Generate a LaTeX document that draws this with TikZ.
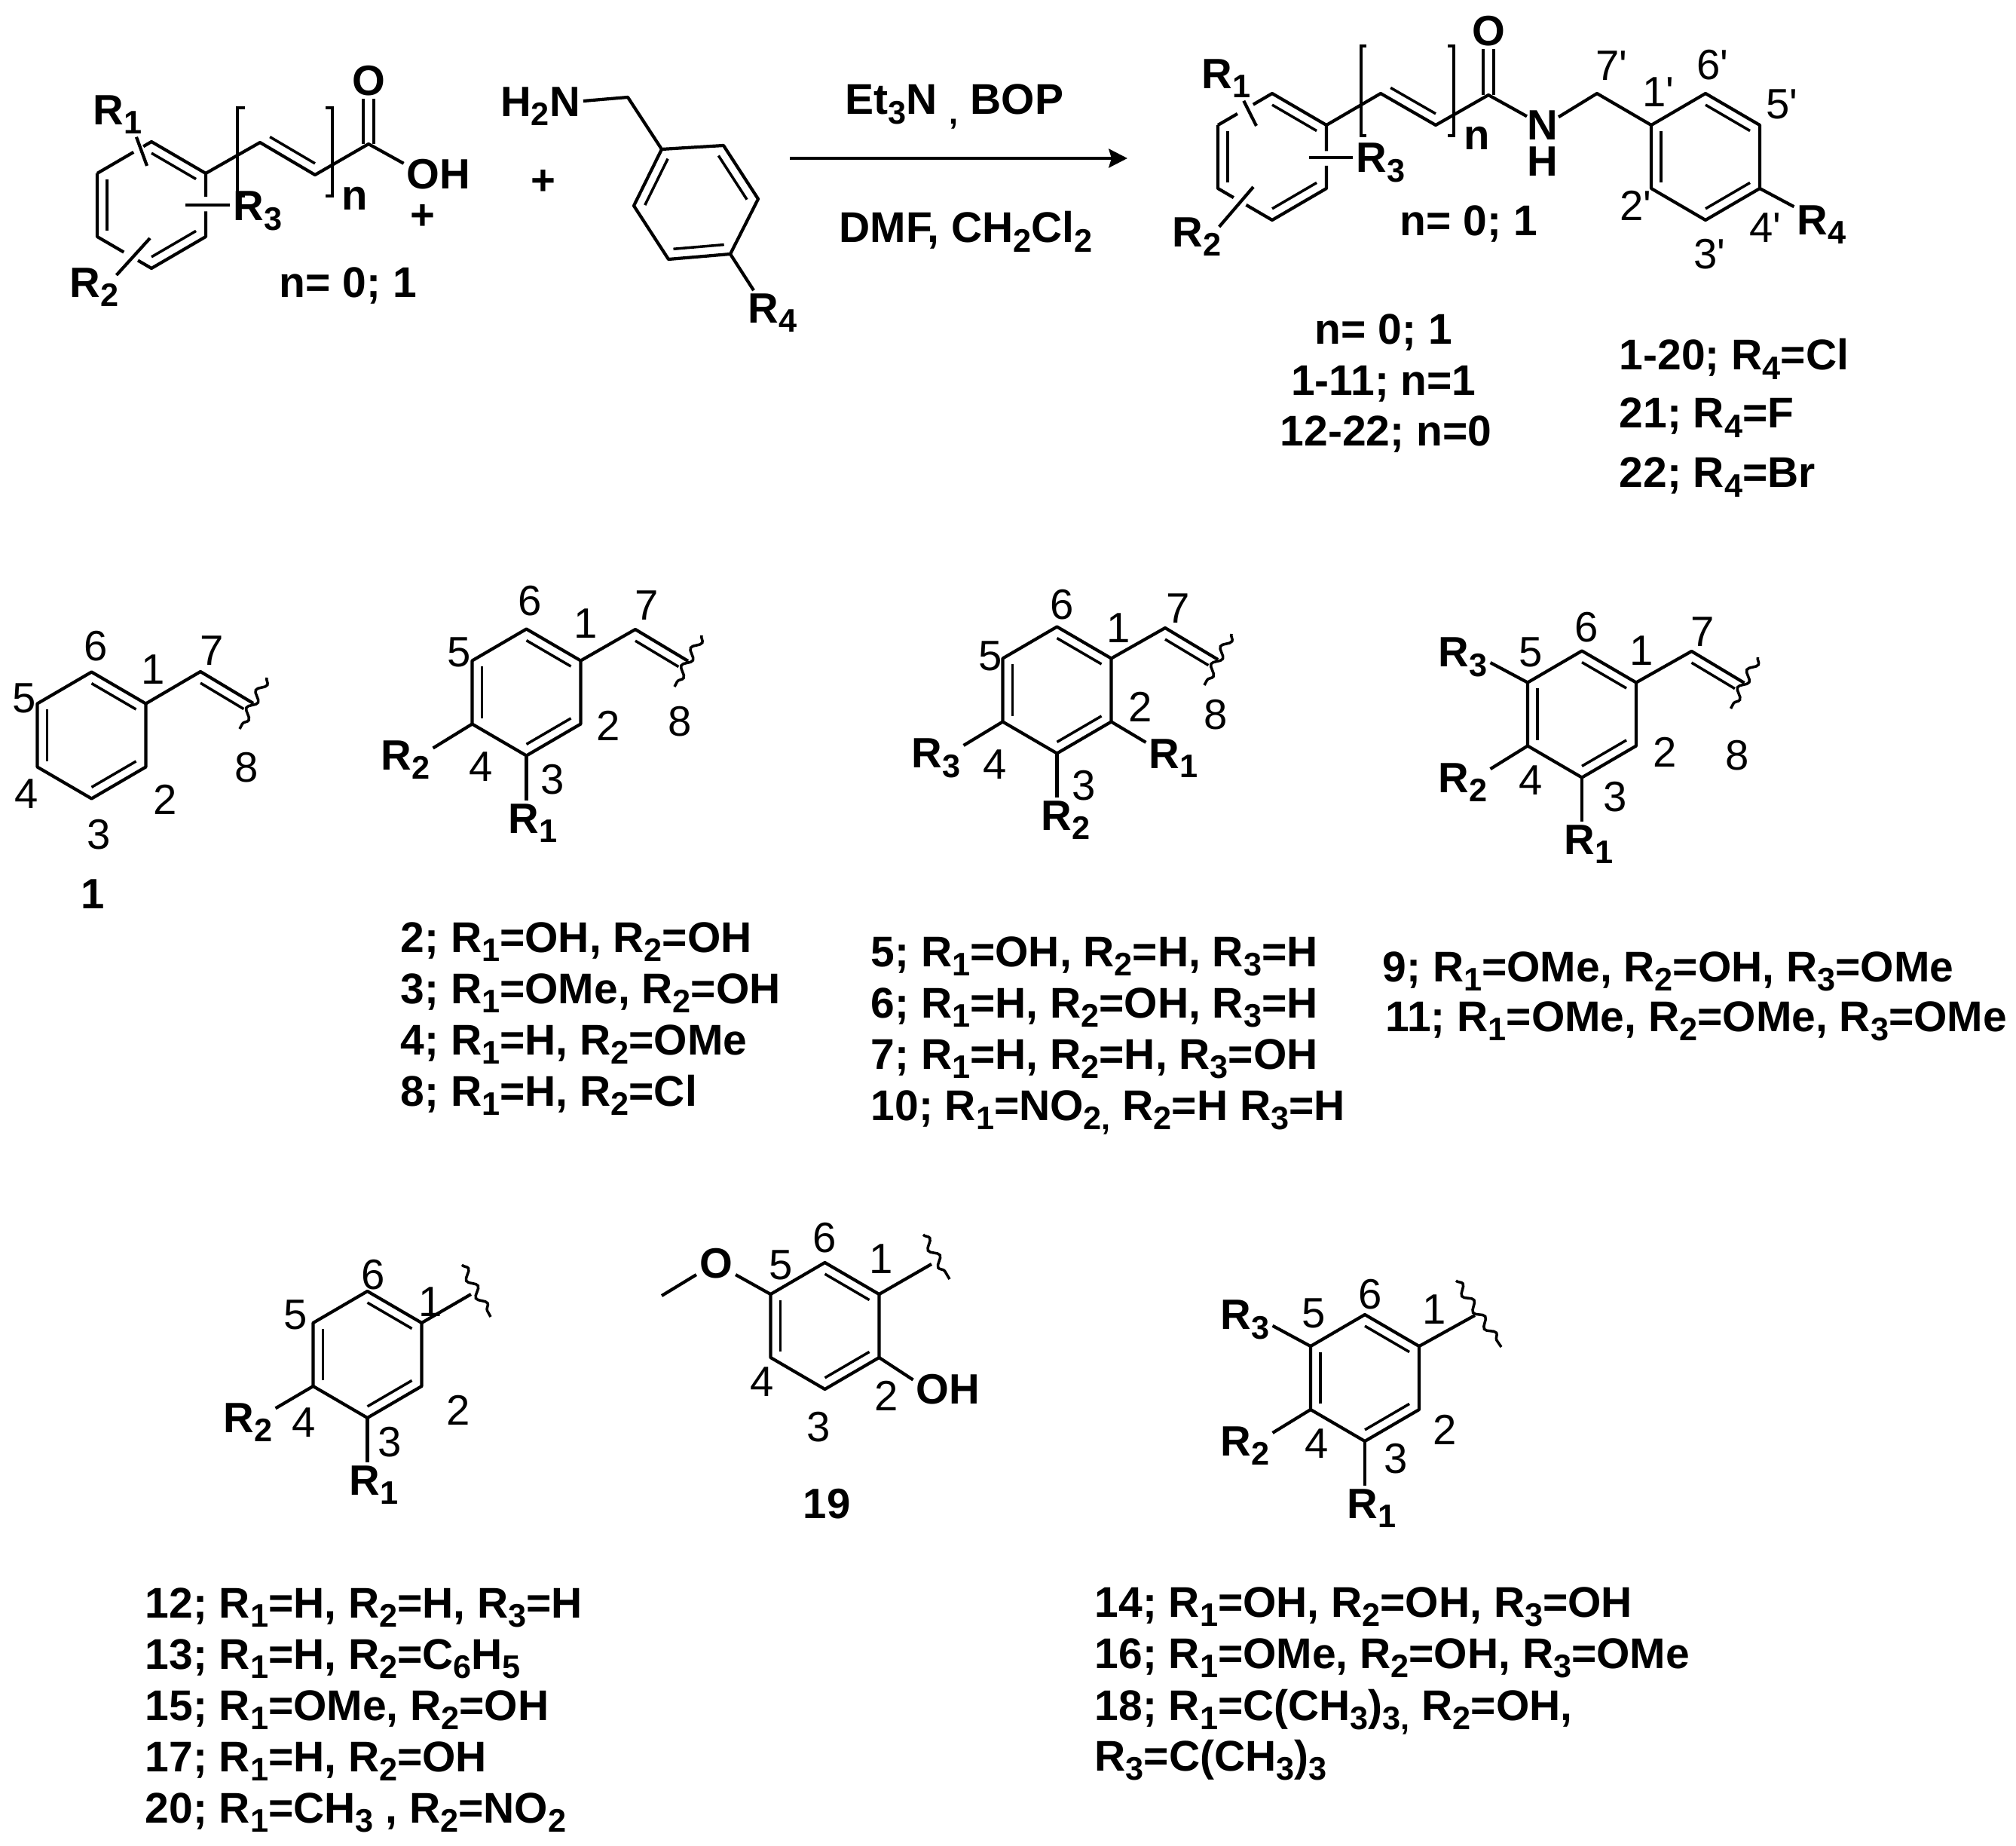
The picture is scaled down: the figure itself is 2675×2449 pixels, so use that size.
\documentclass[tikz,border=0pt]{standalone}
\usepackage{fontspec}
\setmainfont{Liberation Sans}
\usetikzlibrary{arrows,arrows.meta,calc,decorations.pathmorphing}
\tikzset{
    bond/.style={
        line width=1.2pt,
        line join=round,
    },
    innerbond/.style={
        line width=1pt,
    },
    dblbond/.style={
        double,
        double distance=2.8pt,
        line width=1.1pt,
    },
    bracket/.style={
        line width=0.9pt,
    },
    wavy/.style={
        line width=1pt,
        decorate,
        decoration={snake,amplitude=1.5pt,segment length=7.5pt},
    },
    reaction/.style={
        line width=1.4pt,
        -{Stealth[length=7pt,width=7pt,inset=1pt]},
    },
    atomlabel/.style={
        font=\fontsize{16}{19}\selectfont\bfseries,
        inner sep=1pt,
    },
    poslabel/.style={
        font=\fontsize{16}{19}\selectfont,
        inner sep=0pt,
    },
    listlabel/.style={
        font=\fontsize{16.2}{19}\selectfont\bfseries,
        inner sep=0pt,
        anchor=base west,
    },
    centerlabel/.style={
        font=\fontsize{16.2}{19}\selectfont\bfseries,
        inner sep=0pt,
        anchor=base,
    }
}
\newcommand{\sbs}[1]{\raisebox{-0.22em}{\fontsize{12.3}{13}\selectfont #1}}
\newcommand{\Rsub}[1]{R\sbs{#1}}
\newcommand{\pr}{\textquotesingle}
% vertices 1..6 clockwise from the upper right, #1c is the centre
\newcommand{\ringcoords}[3]{
    \coordinate (#1c) at (#2,#3);
    \coordinate (#11) at (#2+72,#3-42);
    \coordinate (#12) at (#2+72,#3+42);
    \coordinate (#13) at (#2,#3+84);
    \coordinate (#14) at (#2-72,#3+42);
    \coordinate (#15) at (#2-72,#3-42);
    \coordinate (#16) at (#2,#3-84);
}
\newcommand{\inbond}[3]{\draw[innerbond] ($(#1)!0.18!(#3)$) -- ($(#2)!0.18!(#3)$);}
\newcommand{\ringinner}[1]{
    \inbond{#16}{#11}{#1c}
    \inbond{#12}{#13}{#1c}
    \inbond{#14}{#15}{#1c}
}
\newcommand{\benzring}[3]{
    \ringcoords{#1}{#2}{#3}
    \draw[bond] (#11) -- (#12) -- (#13) -- (#14) -- (#15) -- (#16) -- cycle;
    \ringinner{#1}
}
% styryl arm: #1 name, #2 ring vertex, #3 #4 position of C7
\newcommand{\vinylarm}[4]{
    \coordinate (#17) at (#3,#4);
    \coordinate (#18) at (#3+70,#4+42);
    \coordinate (#1v) at (#3,#4+84);
    \coordinate (#1wa) at (#3+88,#4+8);
    \coordinate (#1wb) at (#3+52,#4+76);
    \draw[bond] (#2) -- (#17) -- (#18);
    \inbond{#17}{#18}{#1v}
    \draw[wavy] (#1wa) -- (#1wb);
}

\begin{document}
\begin{tikzpicture}[x=0.01cm,y=-0.01cm,>=stealth']
    \useasboundingbox (0,0) rectangle (2675,2449);

    % acid
    \ringcoords{ac}{201}{272}
    \node [atomlabel] (acR1) at (156,152) {\Rsub{1}};
    \node [atomlabel] (acR2) at (125,381) {\Rsub{2}};
    \node [atomlabel] (acR3) at (342,280) {\Rsub{3}};
    \node [atomlabel] (acO) at (489,107) {O};
    \node [atomlabel] (acOH) at (582,231) {OH};
    \node [atomlabel] (acn) at (471,263) {n};
    \coordinate (acc1) at (345,189);
    \coordinate (acc2) at (418,232);
    \coordinate (acc3) at (489,191);
    \coordinate (acv) at (418,148);
    \coordinate (acx1) at (195,220);
    \coordinate (acx2) at (199,316);
    \coordinate (acx3) at (246,272);
    \draw[dblbond] (acc3) -- (acO);
    \draw[bond] (ac5) -- ($(ac5)!0.67!(ac6)$);
    \draw[bond] ($(ac5)!0.85!(ac6)$) -- (ac6) -- (ac1) -- ($(ac1)!0.37!(ac2)$);
    \draw[bond] ($(ac1)!0.6!(ac2)$) -- (ac2) -- (ac3) -- ($(ac3)!0.25!(ac4)$);
    \draw[bond] ($(ac3)!0.51!(ac4)$) -- (ac4) -- (ac5);
    \ringinner{ac}
    \draw[bond] (acR1.-50) -- (acx1);
    \draw[bond,shorten <=-3pt] (acR2.33) -- (acx2);
    \draw[bond] (acx3) -- (acx3 -| acR3.west);
    \draw[bond] (ac1) -- (acc1) -- (acc2) -- (acc3) -- (acOH.163);
    \inbond{acc1}{acc2}{acv}
    \draw[bracket] (325,143) -- (315,143) -- (315,260) -- (325,260);
    \draw[bracket] (432,143) -- (441,143) -- (441,260) -- (432,260);
    \node [centerlabel] (acnval) at (462,395) {n= 0; 1};
    \node [atomlabel] (plusa) at (561,288) {+};
    \node [atomlabel] (plusb) at (721,242) {+};

    % amine
    \node [atomlabel] (baN) at (717,141) {H\sbs{2}N};
    \node [atomlabel] (baR4) at (1025,415) {\Rsub{4}};
    \coordinate (bach) at (833,129);
    \coordinate (bac) at (923,268);
    \coordinate (ba1) at (878,198);
    \coordinate (ba2) at (960,193);
    \coordinate (ba3) at (1006,264);
    \coordinate (ba4) at (969,337);
    \coordinate (ba5) at (887,344);
    \coordinate (ba6) at (841,273);
    \draw[bond] (baN.7) -- (bach) -- (ba1) -- (ba2) -- (ba3) -- (ba4) -- (ba5) -- (ba6) -- (ba1);
    \draw[bond] (ba4) -- (baR4.130);
    \inbond{ba1}{ba6}{bac}
    \inbond{ba2}{ba3}{bac}
    \inbond{ba4}{ba5}{bac}

    % arrow
    \node [listlabel] (reagtop) at (1121,152) {Et\sbs{3}N \sbs{,} BOP};
    \node [listlabel] (reagbot) at (1113,322) {DMF, CH\sbs{2}Cl\sbs{2}};
    \coordinate (arrowa) at (1048,210);
    \coordinate (arrowb) at (1496,210);
    \draw[reaction] (arrowa) -- (arrowb);

    % amide
    \ringcoords{am}{1688}{208}
    \node [atomlabel] (amR1) at (1627,104) {\Rsub{1}};
    \node [atomlabel] (amR2) at (1588,314) {\Rsub{2}};
    \node [atomlabel] (amR3) at (1832,216) {\Rsub{3}};
    \node [atomlabel] (amO) at (1975,41) {O};
    \node [atomlabel,inner sep=0pt] (amN) at (2047,166) {N};
    \node [atomlabel,inner sep=0pt] (amH) at (2047,214) {H};
    \node [atomlabel] (amn) at (1960,183) {n};
    \coordinate (amc1) at (1832,124);
    \coordinate (amc2) at (1905,166);
    \coordinate (amc3) at (1975,126);
    \coordinate (amc7) at (2119,124);
    \coordinate (amv) at (1905,82);
    \coordinate (amx1) at (1667,167);
    \coordinate (amx2) at (1663,248);
    \coordinate (amx3) at (1737,209);
    \draw[dblbond] (amc3) -- (amO);
    \draw[bond] (am5) -- ($(am5)!0.36!(am6)$);
    \draw[bond] ($(am5)!0.65!(am6)$) -- (am6) -- (am1) -- ($(am1)!0.41!(am2)$);
    \draw[bond] ($(am1)!0.64!(am2)$) -- (am2) -- (am3) -- ($(am3)!0.48!(am4)$);
    \draw[bond] ($(am3)!0.71!(am4)$) -- (am4) -- (am5);
    \ringinner{am}
    \draw[bond] (amR1.-52) -- (amx1);
    \draw[bond,shorten <=-3pt] (amR2.30) -- (amx2);
    \draw[bond] (amx3) -- (amx3 -| amR3.west);
    \draw[bond] (am1) -- (amc1) -- (amc2) -- (amc3) -- (amN.151);
    \inbond{amc1}{amc2}{amv}
    \draw[bracket] (1813,61) -- (1806,61) -- (1806,180) -- (1813,180);
    \draw[bracket] (1921,61) -- (1929,61) -- (1929,180) -- (1921,180);
    \benzring{bn}{2263}{208}
    \draw[bond] (amN.27) -- (amc7) -- (bn5);
    \node [atomlabel] (bnR4) at (2417,298) {\Rsub{4}};
    \draw[bond] (bn2) -- (bnR4.147);
    \node [poslabel] (amp7) at (2138,87) {7\pr};
    \node [poslabel] (amp6) at (2272,86) {6\pr};
    \node [poslabel] (amp1) at (2200,122) {1\pr};
    \node [poslabel] (amp5) at (2364,138) {5\pr};
    \node [poslabel] (amp2) at (2170,273) {2\pr};
    \node [poslabel] (amp4) at (2342,302) {4\pr};
    \node [poslabel] (amp3) at (2268,337) {3\pr};
    \node [centerlabel] (amnval) at (1949,313) {n= 0; 1};
    \node [centerlabel] (tabn) at (1836,457) {n= 0; 1};
    \node [centerlabel] (tabna) at (1836,525) {1-11; n=1};
    \node [centerlabel] (tabnb) at (1839,592) {12-22; n=0};
    \node [listlabel] (tabra) at (2148,491) {1-20; \Rsub{4}=Cl};
    \node [listlabel] (tabrb) at (2148,568) {21; \Rsub{4}=F};
    \node [listlabel] (tabrc) at (2148,647) {22; \Rsub{4}=Br};

    % compound 1
    \benzring{ca}{121.5}{975.5}
    \vinylarm{ca}{ca1}{266}{891}
    \node [poslabel] (cap6) at (127,857) {6};
    \node [poslabel] (cap1) at (203,888) {1};
    \node [poslabel] (cap7) at (281,863) {7};
    \node [poslabel] (cap5) at (32,926) {5};
    \node [poslabel] (cap8) at (327,1018) {8};
    \node [poslabel] (cap2) at (219,1061) {2};
    \node [poslabel] (cap4) at (35,1053) {4};
    \node [poslabel] (cap3) at (131,1107) {3};
    \node [atomlabel] (caname) at (123,1186) {1};

    % compounds 2-4, 8
    \benzring{cb}{698.5}{918.5}
    \vinylarm{cb}{cb1}{843}{835}
    \node [atomlabel] (cbR1) at (707,1092) {\Rsub{1}};
    \node [atomlabel] (cbR2) at (538,1008) {\Rsub{2}};
    \draw[bond] (cb3) -- (cb3 |- cbR1.north);
    \draw[bond] (cb4) -- (cbR2.23);
    \node [poslabel] (cbp6) at (703,797) {6};
    \node [poslabel] (cbp1) at (777,827) {1};
    \node [poslabel] (cbp7) at (858,803) {7};
    \node [poslabel] (cbp5) at (609,865) {5};
    \node [poslabel] (cbp2) at (807,963) {2};
    \node [poslabel] (cbp8) at (902,957) {8};
    \node [poslabel] (cbp4) at (638,1017) {4};
    \node [poslabel] (cbp3) at (733,1034) {3};
    \node [listlabel] (lista) at (531,1263) {2; \Rsub{1}=OH, \Rsub{2}=OH};
    \node [listlabel] (listb) at (531,1331) {3; \Rsub{1}=OMe, \Rsub{2}=OH};
    \node [listlabel] (listc) at (531,1399) {4; \Rsub{1}=H, \Rsub{2}=OMe};
    \node [listlabel] (listd) at (531,1467) {8; \Rsub{1}=H, \Rsub{2}=Cl};

    % compounds 5-7, 10
    \benzring{cc}{1402.5}{915.5}
    \vinylarm{cc}{cc1}{1546}{833}
    \node [atomlabel] (ccR1) at (1557,1006) {\Rsub{1}};
    \node [atomlabel] (ccR2) at (1414,1088) {\Rsub{2}};
    \node [atomlabel] (ccR3) at (1242,1006) {\Rsub{3}};
    \draw[bond] (cc2) -- (ccR1.150);
    \draw[bond] (cc3) -- (cc3 |- ccR2.north);
    \draw[bond] (cc4) -- (ccR3.25);
    \node [poslabel] (ccp6) at (1409,802) {6};
    \node [poslabel] (ccp1) at (1484,833) {1};
    \node [poslabel] (ccp7) at (1563,807) {7};
    \node [poslabel] (ccp5) at (1314,870) {5};
    \node [poslabel] (ccp2) at (1513,938) {2};
    \node [poslabel] (ccp8) at (1613,948) {8};
    \node [poslabel] (ccp4) at (1320,1014) {4};
    \node [poslabel] (ccp3) at (1438,1042) {3};
    \node [listlabel] (liste) at (1155,1282) {5; \Rsub{1}=OH, \Rsub{2}=H, \Rsub{3}=H};
    \node [listlabel] (listf) at (1155,1350) {6; \Rsub{1}=H, \Rsub{2}=OH, \Rsub{3}=H};
    \node [listlabel] (listg) at (1155,1418) {7; \Rsub{1}=H, \Rsub{2}=H, \Rsub{3}=OH};
    \node [listlabel] (listh) at (1155,1486) {10; \Rsub{1}=NO\sbs{2,} \Rsub{2}=H \Rsub{3}=H};

    % compounds 9, 11
    \benzring{cd}{2099}{947.5}
    \vinylarm{cd}{cd1}{2244.5}{864}
    \node [atomlabel] (cdR1) at (2108,1120) {\Rsub{1}};
    \node [atomlabel] (cdR2) at (1941,1038) {\Rsub{2}};
    \node [atomlabel] (cdR3) at (1941,872) {\Rsub{3}};
    \draw[bond] (cd3) -- (cd3 |- cdR1.north);
    \draw[bond] (cd4) -- (cdR2.26);
    \draw[bond] (cd5) -- (cdR3.-11);
    \node [poslabel] (cdp6) at (2105,832) {6};
    \node [poslabel] (cdp5) at (2031,865) {5};
    \node [poslabel] (cdp1) at (2178,863) {1};
    \node [poslabel] (cdp7) at (2259,838) {7};
    \node [poslabel] (cdp2) at (2209,998) {2};
    \node [poslabel] (cdp8) at (2305,1002) {8};
    \node [poslabel] (cdp4) at (2031,1035) {4};
    \node [poslabel] (cdp3) at (2143,1057) {3};
    \node [listlabel] (listi) at (1834,1302) {9; \Rsub{1}=OMe, \Rsub{2}=OH, \Rsub{3}=OMe};
    \node [listlabel] (listj) at (1838,1368) {11; \Rsub{1}=OMe, \Rsub{2}=OMe, \Rsub{3}=OMe};

    % compounds 12, 13, 15, 17, 20
    \benzring{ra}{487.5}{1797}
    \node [atomlabel] (raR1) at (496,1970) {\Rsub{1}};
    \node [atomlabel] (raR2) at (329,1887) {\Rsub{2}};
    \coordinate (raw) at (625,1717);
    \coordinate (rawa) at (613,1678);
    \coordinate (rawb) at (651,1747);
    \draw[bond] (ra1) -- (raw);
    \draw[wavy] (rawa) -- (rawb);
    \draw[bond] (ra3) -- (ra3 |- raR1.north);
    \draw[bond] (ra4) -- (raR2.27);
    \node [poslabel] (rap6) at (495,1691) {6};
    \node [poslabel] (rap5) at (392,1744) {5};
    \node [poslabel] (rap1) at (571,1727) {1};
    \node [poslabel] (rap2) at (608,1871) {2};
    \node [poslabel] (rap4) at (403,1887) {4};
    \node [poslabel] (rap3) at (517,1913) {3};
    \node [listlabel] (listk) at (192,2146) {12; \Rsub{1}=H, \Rsub{2}=H, \Rsub{3}=H};
    \node [listlabel] (listl) at (192,2214) {13; \Rsub{1}=H, \Rsub{2}=C\sbs{6}H\sbs{5}};
    \node [listlabel] (listm) at (192,2282) {15; \Rsub{1}=OMe, \Rsub{2}=OH};
    \node [listlabel] (listn) at (192,2350) {17; \Rsub{1}=H, \Rsub{2}=OH};
    \node [listlabel] (listo) at (192,2418) {20; \Rsub{1}=CH\sbs{3} , \Rsub{2}=NO\sbs{2}};

    % compound 19
    \benzring{rb}{1094.5}{1759}
    \node [atomlabel] (rbO) at (950,1676) {O};
    \node [atomlabel] (rbOH) at (1258,1843) {OH};
    \coordinate (rbme) at (878,1719);
    \coordinate (rbw) at (1236,1677);
    \coordinate (rbwa) at (1225,1638);
    \coordinate (rbwb) at (1260,1697);
    \draw[bond] (rb5) -- (rbO.-30);
    \draw[bond] (rbO.210) -- (rbme);
    \draw[bond] (rb1) -- (rbw);
    \draw[wavy] (rbwa) -- (rbwb);
    \draw[bond] (rb2) -- (rbOH.165);
    \node [poslabel] (rbp6) at (1094,1642) {6};
    \node [poslabel] (rbp5) at (1036,1678) {5};
    \node [poslabel] (rbp1) at (1169,1670) {1};
    \node [poslabel] (rbp2) at (1176,1852) {2};
    \node [poslabel] (rbp4) at (1011,1833) {4};
    \node [poslabel] (rbp3) at (1086,1893) {3};
    \node [atomlabel] (rbname) at (1097,1995) {19};

    % compounds 14, 16, 18
    \benzring{rc}{1811}{1828}
    \node [atomlabel] (rcR1) at (1820,2001) {\Rsub{1}};
    \node [atomlabel] (rcR2) at (1652,1918) {\Rsub{2}};
    \node [atomlabel] (rcR3) at (1652,1751) {\Rsub{3}};
    \coordinate (rcw) at (1957,1745);
    \coordinate (rcwa) at (1932,1699);
    \coordinate (rcwb) at (1992,1787);
    \draw[bond] (rc1) -- (rcw);
    \draw[wavy] (rcwa) -- (rcwb);
    \draw[bond] (rc3) -- (rc3 |- rcR1.north);
    \draw[bond] (rc4) -- (rcR2.25);
    \draw[bond] (rc5) -- (rcR3.-12);
    \node [poslabel] (rcp6) at (1818,1717) {6};
    \node [poslabel] (rcp5) at (1743,1742) {5};
    \node [poslabel] (rcp1) at (1903,1737) {1};
    \node [poslabel] (rcp2) at (1917,1897) {2};
    \node [poslabel] (rcp4) at (1747,1915) {4};
    \node [poslabel] (rcp3) at (1852,1935) {3};
    \node [listlabel] (listp) at (1452,2145) {14; \Rsub{1}=OH, \Rsub{2}=OH, \Rsub{3}=OH};
    \node [listlabel] (listq) at (1452,2213) {16; \Rsub{1}=OMe, \Rsub{2}=OH, \Rsub{3}=OMe};
    \node [listlabel] (listr) at (1452,2282) {18; \Rsub{1}=C(CH\sbs{3})\sbs{3,} \Rsub{2}=OH,};
    \node [listlabel] (lists) at (1452,2349) {\Rsub{3}=C(CH\sbs{3})\sbs{3}};
\end{tikzpicture}
\end{document}
